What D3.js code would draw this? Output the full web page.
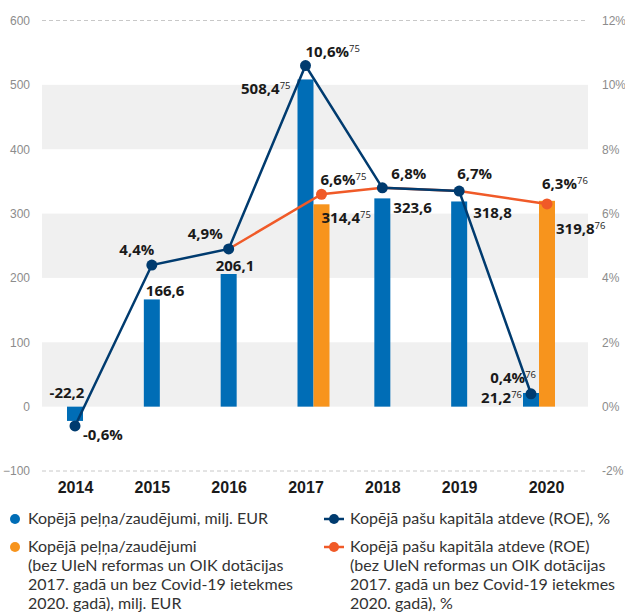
<!DOCTYPE html>
<html>
<head>
<meta charset="utf-8">
<script src="https://cdn.jsdelivr.net/npm/d3@7"></script>
<style>
  body { margin: 0; background: #fff; }
  svg { font-family: "Open Sans", "Noto Sans", sans-serif; }
  .tick text { fill: #8c8c8c; font-size: 12px; }
  .year text { fill: #1a1a1a; font-size: 16px; font-weight: 700; }
  .lbl { fill: #1a1a1a; font-size: 15px; font-weight: 700; }
  .leg { fill: #333; font-size: 16px; font-family: Lato, "Open Sans", sans-serif; }
</style>
</head>
<body>
<div id="chart"></div>
<script>
  // dati
  var years = ['2014', '2015', '2016', '2017', '2018', '2019', '2020'];
  var profit = [-22.2, 166.6, 206.1, 508.4, 323.6, 318.8, 21.2];
  var profitNote = ['', '', '', '75', '', '', '76'];
  var profitAdj = [null, null, null, 314.4, null, null, 319.8];
  var profitAdjNote = ['', '', '', '75', '', '', '76'];
  var roe = [-0.6, 4.4, 4.9, 10.6, 6.8, 6.7, 0.4];
  var roeNote = ['', '', '', '75', '', '', '76'];
  var roeAdj = [null, null, 4.9, 6.6, 6.8, 6.7, 6.3];
  var roeAdjNote = ['', '', '', '75', '', '', '76'];
  var leftTicks = [-100, 0, 100, 200, 300, 400, 500, 600];
  var rightTicks = [-2, 0, 2, 4, 6, 8, 10, 12];
  var legendItems = [
    ['Kopējā peļņa/zaudējumi, milj. EUR'],
    ['Kopējā peļņa/zaudējumi', '(bez UIeN reformas un OIK dotācijas', '2017. gadā un bez Covid-19 ietekmes', '2020. gadā), milj. EUR'],
    ['Kopējā pašu kapitāla atdeve (ROE), %'],
    ['Kopējā pašu kapitāla atdeve (ROE)', '(bez UIeN reformas un OIK dotācijas', '2017. gadā un bez Covid-19 ietekmes', '2020. gadā), %']
  ];

  var colBlue = '#006db6', colOrange = '#f7941d', colNavy = '#003b6f', colRed = '#f05a28';

  var W = 625, H = 613;
  var plotLeft = 42, plotRight = 588;

  var svg = d3.select('#chart').append('svg')
    .attr('width', W).attr('height', H);

  var x = d3.scalePoint().domain(years).range([75, 536]);
  var y = d3.scaleLinear().domain([-100, 600]).range([471, 20.5]);
  var yR = d3.scaleLinear().domain([-2, 12]).range([471, 20.5]);

  var barW = 16;
  // 2020 grupa originālā nobīdīta pa kreisi
  function blueX(i) { return x(years[i]) + (years[i] === '2020' ? -5 : 0); }
  function orangeX(i) { return blueX(i) + barW; }

  // pelēkās joslas
  [[0, 100], [200, 300], [400, 500]].forEach(function(b) {
    svg.append('rect')
      .attr('x', plotLeft).attr('width', plotRight - plotLeft)
      .attr('y', y(b[1])).attr('height', y(b[0]) - y(b[1]))
      .attr('fill', '#f0f0f0');
  });

  // raustītās līnijas augšā un apakšā
  [600, -100].forEach(function(v) {
    svg.append('line')
      .attr('x1', plotLeft).attr('x2', plotRight)
      .attr('y1', y(v)).attr('y2', y(v))
      .attr('stroke', '#c8c8c8').attr('stroke-dasharray', '4,3');
  });

  // asis
  var gL = svg.append('g').attr('transform', 'translate(30,0)')
    .call(d3.axisLeft(y).tickValues(leftTicks).tickSize(0).tickPadding(0));
  gL.select('.domain').remove();

  var gR = svg.append('g').attr('transform', 'translate(602,0)')
    .call(d3.axisRight(yR).tickValues(rightTicks).tickSize(0).tickPadding(0)
      .tickFormat(function(d) { return d + '%'; }));
  gR.select('.domain').remove();

  var gX = svg.append('g').attr('class', 'year').attr('transform', 'translate(0,482)')
    .call(d3.axisBottom(x).tickSize(0).tickPadding(0));
  gX.select('.domain').remove();
  gX.selectAll('.tick').filter(function(d) { return d === '2020'; })
    .select('text').attr('dx', 10);

  // stabiņi
  svg.selectAll('.bar').data(profit).enter().append('rect')
    .attr('class', 'bar')
    .attr('x', function(d, i) { return blueX(i) - barW / 2; })
    .attr('width', barW)
    .attr('y', function(d) { return y(Math.max(0, d)); })
    .attr('height', function(d) { return Math.abs(y(d) - y(0)); })
    .attr('fill', colBlue);

  var adjIdx = profitAdj.map(function(v, i) { return v === null ? -1 : i; })
    .filter(function(i) { return i >= 0; });

  svg.selectAll('.barAdj').data(adjIdx).enter().append('rect')
    .attr('class', 'barAdj')
    .attr('x', function(i) { return orangeX(i) - barW / 2; })
    .attr('width', barW)
    .attr('y', function(i) { return y(Math.max(0, profitAdj[i])); })
    .attr('height', function(i) { return Math.abs(y(profitAdj[i]) - y(0)); })
    .attr('fill', colOrange);

  // ROE līnijas
  var adjPts = [];
  roeAdj.forEach(function(v, i) {
    if (v === null) return;
    var px = (profitAdj[i] !== null) ? orangeX(i) : blueX(i);
    adjPts.push([px, yR(v)]);
  });
  var roePts = roe.map(function(v, i) { return [blueX(i), yR(v)]; });
  var line = d3.line();

  svg.append('path').attr('d', line(adjPts))
    .attr('fill', 'none').attr('stroke', colRed).attr('stroke-width', 2.5);
  svg.selectAll('.dotAdj').data(adjIdx).enter().append('circle')
    .attr('cx', function(i) { return orangeX(i); })
    .attr('cy', function(i) { return yR(roeAdj[i]); })
    .attr('r', 5.5).attr('fill', colRed);

  svg.append('path').attr('d', line(roePts))
    .attr('fill', 'none').attr('stroke', colNavy).attr('stroke-width', 2.5);
  svg.selectAll('.dot').data(roePts).enter().append('circle')
    .attr('cx', function(d) { return d[0]; }).attr('cy', function(d) { return d[1]; })
    .attr('r', 5.5).attr('fill', colNavy);

  // vērtību uzraksti
  function fmt(v, pct) {
    return v.toFixed(1).replace('.', ',') + (pct ? '%' : '');
  }
  function label(px, py, txt, note, anchor, dx, dy) {
    var t = svg.append('text').attr('class', 'lbl')
      .attr('x', px + dx).attr('y', py + dy)
      .attr('text-anchor', anchor).text(txt);
    if (note) t.append('tspan').attr('font-size', 9.5).attr('font-weight', 400)
      .attr('dy', -5).text(note);
  }

  // novietojums [anchor, dx, dy] katram uzrakstam
  var profitPos = [['middle', -8, -9], ['start', -6, -3], ['start', -13, -3], ['end', -15, 15],
    ['start', 11, 15], ['start', 14, 17], ['end', -9, 10]];
  var profitAdjPos = {3: ['start', 0, 19], 6: ['start', 9, 33]};
  var roePos = [['start', 8, 14], ['middle', -15, -10], ['end', -6, -10], ['start', 0, -9],
    ['start', 9, -9], ['start', -2, -12], ['end', 5, -11]];
  var roeAdjPos = {3: ['start', -1, -9], 6: ['start', -5, -15]};

  profit.forEach(function(v, i) {
    var p = profitPos[i];
    label(blueX(i), v < 0 ? y(0) : y(v), fmt(v), profitNote[i], p[0], p[1], p[2]);
  });
  adjIdx.forEach(function(i) {
    var p = profitAdjPos[i];
    label(orangeX(i), y(profitAdj[i]), fmt(profitAdj[i]), profitAdjNote[i], p[0], p[1], p[2]);
  });
  roe.forEach(function(v, i) {
    var p = roePos[i];
    label(blueX(i), yR(v), fmt(v, true), roeNote[i], p[0], p[1], p[2]);
  });
  adjIdx.forEach(function(i) {
    var p = roeAdjPos[i];
    label(orangeX(i), yR(roeAdj[i]), fmt(roeAdj[i], true), roeAdjNote[i], p[0], p[1], p[2]);
  });

  // leģenda
  var legPos = [[28, 524], [28, 552], [350, 524], [350, 552]];
  var legCol = [colBlue, colOrange, colNavy, colRed];
  legendItems.forEach(function(lines, k) {
    var lx = legPos[k][0], ly = legPos[k][1];
    if (k < 2) {
      svg.append('circle').attr('cx', lx - 13).attr('cy', ly - 5).attr('r', 5).attr('fill', legCol[k]);
    } else {
      svg.append('line').attr('x1', lx - 26).attr('x2', lx - 6)
        .attr('y1', ly - 5).attr('y2', ly - 5)
        .attr('stroke', legCol[k]).attr('stroke-width', 2.5);
      svg.append('circle').attr('cx', lx - 16).attr('cy', ly - 5).attr('r', 5).attr('fill', legCol[k]);
    }
    lines.forEach(function(s, j) {
      svg.append('text').attr('class', 'leg')
        .attr('x', lx).attr('y', ly + j * 19).text(s);
    });
  });
</script>
</body>
</html>
